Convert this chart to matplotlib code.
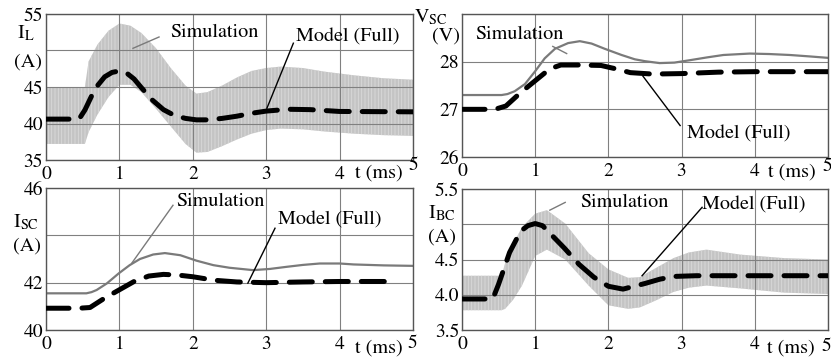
import matplotlib
matplotlib.use("Agg")
import matplotlib.pyplot as plt

plt.rcParams['font.family'] = ['STIXGeneral', 'DejaVu Serif']
plt.rcParams['mathtext.fontset'] = 'stix'
plt.rcParams['hatch.linewidth'] = 0.6

# ---------------- data ----------------
# I_L (top-left): simulation ripple envelope + model
t_il_sim = [0, 0.53, 0.58, 0.7, 0.85, 1.0, 1.15, 1.3, 1.5, 1.7, 1.9, 2.05, 2.2, 2.4, 2.6, 2.8, 3.0, 3.2, 3.5, 3.8, 4.2, 4.6, 5.0]
il_sim_hi = [45, 45, 48.5, 50.8, 52.7, 53.7, 53.4, 52.4, 50.3, 47.6, 45.2, 44.1, 44.3, 45.2, 46.3, 47.2, 47.6, 47.8, 47.6, 47.1, 46.6, 46.2, 46.0]
il_sim_lo = [37.2, 37.2, 38.8, 41.2, 43.6, 45.3, 45.3, 44.3, 42.0, 39.6, 37.2, 36.0, 36.1, 36.9, 37.8, 38.6, 39.1, 39.3, 39.2, 38.9, 38.6, 38.4, 38.3]
t_il_mod = [0, 0.45, 0.53, 0.67, 0.8, 0.9, 1.0, 1.1, 1.2, 1.3, 1.45, 1.6, 1.75, 1.9, 2.05, 2.2, 2.4, 2.6, 2.8, 3.0, 3.3, 3.6, 4.0, 5.0]
il_mod = [40.6, 40.6, 41.85, 44.8, 46.4, 47.0, 47.2, 46.9, 46.1, 44.9, 43.2, 41.9, 41.1, 40.7, 40.5, 40.5, 40.7, 41.0, 41.4, 41.7, 41.95, 41.9, 41.65, 41.6]

# V_SC (top-right)
t_vsc_sim = [0, 0.54, 0.62, 0.72, 0.86, 1.0, 1.13, 1.27, 1.45, 1.61, 1.77, 1.95, 2.18, 2.36, 2.5, 2.7, 2.9, 3.11, 3.35, 3.57, 3.93, 4.2, 4.48, 4.75, 5.0]
vsc_sim = [27.3, 27.3, 27.32, 27.38, 27.53, 27.8, 28.07, 28.27, 28.39, 28.43, 28.38, 28.27, 28.14, 28.05, 28.01, 27.97, 27.98, 28.03, 28.09, 28.14, 28.17, 28.16, 28.14, 28.11, 28.08]
t_vsc_mod = [0, 0.45, 0.6, 0.8, 1.0, 1.2, 1.35, 1.6, 1.9, 2.1, 2.3, 2.6, 3.0, 3.5, 4.0, 5.0]
vsc_mod = [27.0, 27.0, 27.07, 27.35, 27.6, 27.85, 27.93, 27.93, 27.92, 27.85, 27.77, 27.74, 27.75, 27.78, 27.79, 27.79]

# I_SC (bottom-left)
t_isc_sim = [0, 0.55, 0.62, 0.69, 0.83, 0.99, 1.14, 1.28, 1.46, 1.62, 1.83, 2.05, 2.28, 2.5, 2.82, 3.05, 3.28, 3.5, 3.73, 4.0, 4.19, 4.6, 5.0]
isc_sim = [41.55, 41.55, 41.6, 41.69, 41.97, 42.39, 42.74, 43.0, 43.19, 43.25, 43.16, 42.93, 42.74, 42.63, 42.53, 42.58, 42.67, 42.75, 42.81, 42.81, 42.77, 42.73, 42.71]
t_isc_mod = [0, 0.45, 0.6, 0.8, 1.0, 1.2, 1.4, 1.6, 1.8, 2.0, 2.3, 2.6, 3.0, 3.5, 4.0, 4.75]
isc_mod = [40.92, 40.92, 40.95, 41.35, 41.7, 42.05, 42.28, 42.35, 42.32, 42.25, 42.1, 42.03, 42.0, 42.03, 42.05, 42.05]

# I_BC (bottom-right): simulation ripple envelope + model
t_ibc_sim = [0, 0.54, 0.59, 0.7, 0.82, 1.0, 1.16, 1.41, 1.73, 2.0, 2.27, 2.43, 2.65, 2.89, 3.1, 3.34, 3.8, 4.4, 5.0]
ibc_sim_hi = [4.27, 4.27, 4.45, 4.72, 4.96, 5.15, 5.2, 5.01, 4.59, 4.36, 4.24, 4.25, 4.38, 4.52, 4.6, 4.64, 4.57, 4.52, 4.5]
ibc_sim_lo = [3.78, 3.78, 3.8, 3.93, 4.13, 4.55, 4.64, 4.5, 4.13, 3.85, 3.8, 3.82, 3.92, 4.04, 4.1, 4.13, 4.09, 4.03, 4.01]
t_ibc_mod = [0, 0.42, 0.5, 0.65, 0.8, 0.9, 1.0, 1.1, 1.25, 1.4, 1.6, 1.8, 2.0, 2.2, 2.5, 2.7, 2.9, 3.2, 4.0, 5.0]
ibc_mod = [3.94, 3.94, 4.15, 4.6, 4.9, 4.98, 5.01, 4.98, 4.82, 4.66, 4.43, 4.25, 4.12, 4.08, 4.16, 4.22, 4.26, 4.27, 4.27, 4.27]

x_ticks = [0, 1, 2, 3, 4, 5]
x_ticklabels = ['0', '1', '2', '3', '4', '']

# ---------------- styling ----------------
W, H = 831, 358
fig = plt.figure(figsize=(W / 100, H / 100), dpi=100)
BAND = '#c4c4c4'
SIMC = '#7a7a7a'
GRID = '#808080'
FS = 14.5
TFS = 14

def px_axes(l, t, r, b):
    return fig.add_axes([l / W, 1 - b / H, (r - l) / W, (b - t) / H])

def style(ax, ylim, yticks, ylabels):
    ax.set_xlim(0, 5)
    ax.set_ylim(*ylim)
    ax.set_xticks(x_ticks)
    ax.set_xticklabels(x_ticklabels)
    ax.set_yticks(yticks)
    ax.set_yticklabels(ylabels)
    ax.tick_params(length=0, labelsize=TFS)
    ax.tick_params(axis='x', pad=4)
    ax.tick_params(axis='y', pad=2)
    ax.set_axisbelow('line')
    ax.grid(True, color=GRID, lw=0.8)
    for s in ax.spines.values():
        s.set_color('#555555')
        s.set_linewidth(1.0)

def band(ax, t, lo, hi):
    ax.fill_between(t, lo, hi, facecolor=BAND, edgecolor='#dadada',
                    hatch='|||||', lw=0, zorder=1)

def model(ax, t, v):
    ax.plot(t, v, color='black', lw=3.6, linestyle=(0, (4.6, 2.6)),
            dash_capstyle='round', zorder=3)

def ftext(px, py, s, **kw):
    kw.setdefault('fontsize', FS)
    fig.text(px / W, 1 - py / H, s, **kw)

def note(ax, s, xy_text, xy_from, xy_to, color):
    ax.text(xy_text[0], xy_text[1], s, fontsize=FS, ha='left', va='center', zorder=5)
    ax.plot([xy_from[0], xy_to[0]], [xy_from[1], xy_to[1]], color=color, lw=1.0,
            zorder=4, clip_on=False)

# ---- top-left: I_L ----
ax1 = px_axes(46, 14, 413, 160)
style(ax1, (35, 55), [35, 40, 45, 50, 55], ['35', '40', '45', '', '55'])
band(ax1, t_il_sim, il_sim_lo, il_sim_hi)
model(ax1, t_il_mod, il_mod)
note(ax1, 'Simulation', (1.69, 52.5), (1.54, 51.85), (1.185, 50.3), SIMC)
note(ax1, 'Model (Full)', (3.41, 51.85), (3.37, 51.0), (3.01, 42.1), 'black')
ftext(17, 33, r'$\mathrm{I_L}$', va='center', ha='left')
ftext(14, 62, '(A)', va='center', ha='left')
ftext(355, 173, 't (ms)', va='center', ha='left', fontsize=TFS + 0.5)
ftext(413, 165, '5', va='center', ha='center', fontsize=TFS)

# ---- top-right: V_SC ----
ax2 = px_axes(462, 14, 828, 157)
style(ax2, (26, 29), [26, 27, 28, 29], ['26', '27', '28', ''])
ax2.plot(t_vsc_sim, vsc_sim, color=SIMC, lw=1.6, zorder=2)
model(ax2, t_vsc_mod, vsc_mod)
note(ax2, 'Simulation', (0.18, 28.58), (1.24, 28.32), (1.43, 28.17), SIMC)
note(ax2, 'Model (Full)', (3.07, 26.48), (2.98, 26.66), (2.47, 27.7), 'black')
ftext(414, 17, r'$\mathrm{V_{SC}}$', va='center', ha='left')
ftext(432, 36, '(V)', va='center', ha='left')
ftext(768, 172, 't (ms)', va='center', ha='left', fontsize=TFS + 0.5)
ftext(827, 166, '5', va='center', ha='center', fontsize=TFS)

# ---- bottom-left: I_SC ----
ax3 = px_axes(46, 188, 413, 330)
style(ax3, (40, 46), [40, 42, 44, 46], ['40', '42', '', '46'])
ax3.plot(t_isc_sim, isc_sim, color=SIMC, lw=1.6, zorder=2)
model(ax3, t_isc_mod, isc_mod)
note(ax3, 'Simulation', (1.78, 45.44), (1.73, 45.27), (1.17, 42.83), SIMC)
note(ax3, 'Model (Full)', (3.16, 44.64), (3.12, 44.3), (2.75, 41.98), 'black')
ftext(13, 222, r'$\mathrm{I_{SC}}$', va='center', ha='left')
ftext(13, 246, '(A)', va='center', ha='left')
ftext(355, 348, 't (ms)', va='center', ha='left', fontsize=TFS + 0.5)
ftext(412, 343, '5', va='center', ha='center', fontsize=TFS)

# ---- bottom-right: I_BC ----
ax4 = px_axes(462, 189, 828, 330)
style(ax4, (3.5, 5.5), [3.5, 4.0, 4.5, 5.0, 5.5], ['3.5', '4.0', '4.5', '', '5.5'])
band(ax4, t_ibc_sim, ibc_sim_lo, ibc_sim_hi)
model(ax4, t_ibc_mod, ibc_mod)
note(ax4, 'Simulation', (1.61, 5.31), (1.41, 5.31), (1.2, 5.2), SIMC)
note(ax4, 'Model (Full)', (3.28, 5.28), (3.28, 5.24), (2.46, 4.27), 'black')
ftext(428, 213, r'$\mathrm{I_{BC}}$', va='center', ha='left')
ftext(428, 237, '(A)', va='center', ha='left')
ftext(767, 348, 't (ms)', va='center', ha='left', fontsize=TFS + 0.5)
ftext(826, 346, '5', va='center', ha='center', fontsize=TFS)

fig.savefig('out.png', dpi=100, facecolor='white')
